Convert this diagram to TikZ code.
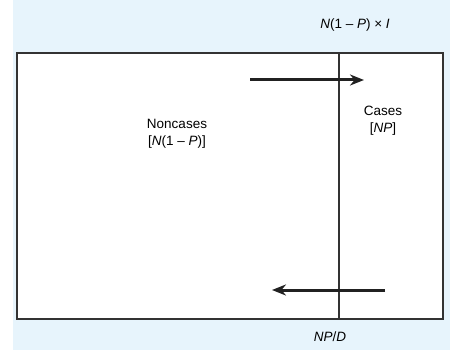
\documentclass[tikz,border=0pt]{standalone}
\usepackage{fontspec}
\setmainfont{Liberation Sans}
\usetikzlibrary{arrows.meta,positioning}

\begin{document}
\begin{tikzpicture}[x=1pt,y=-1pt]
%
\useasboundingbox (0,0) rectangle (450,350);
%
\definecolor{cbg}{rgb}{0.906,0.957,0.988}
\definecolor{cln}{rgb}{0.2,0.2,0.2}
\definecolor{car}{rgb}{0.13,0.13,0.13}
%
\tikzset{lbl/.style={font=\fontsize{13.5}{17}\selectfont,align=center,inner sep=0pt,text=black},
  flow/.style={line width=3pt,color=car,-{Stealth[length=14pt,width=11pt]}}}
%
\fill[cbg] (13,0) rectangle (450,350);
\draw[cln,line width=1.8pt,fill=white] (17,53) rectangle (443,319);
%
\coordinate (top) at (339,53);
\coordinate (bot) at (339,319);
\draw[cln,line width=1.2pt] (top) -- (bot);
%
\coordinate (in0) at (250,80);
\coordinate (in1) at (364,80);
\coordinate (out0) at (385,290);
\coordinate (out1) at (272,290);
\draw[flow] (in0) -- (in1);
\draw[flow] (out0) -- (out1);
%
\node[lbl] (inc) at (355,25) {\textit{N}(1 -- \textit{P}) × \textit{I}};
\node[lbl] (noncases) at (177,134) {Noncases\\{}[\textit{N}(1 -- \textit{P})]};
\node[lbl] (cases) at (383,121) {Cases\\{}[\textit{NP}]};
\node[lbl] (dur) at (330,337) {\textit{NP}/\textit{D}};
%
\end{tikzpicture}
\end{document}
